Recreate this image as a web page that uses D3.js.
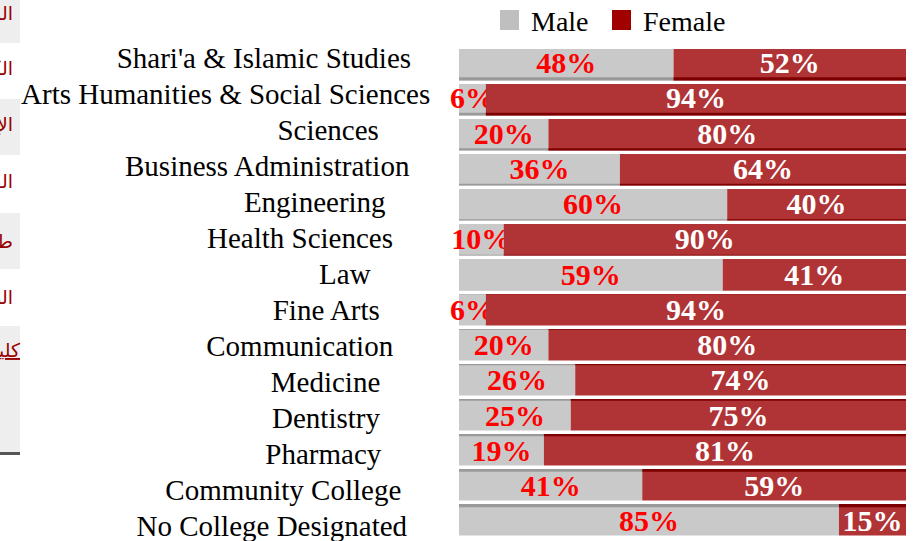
<!DOCTYPE html>
<html>
<head>
<meta charset="utf-8">
<script src="https://cdn.jsdelivr.net/npm/d3@7"></script>
<style>
  body { margin: 0; background: #fff; }
  svg { display: block; }
</style>
</head>
<body>
<div id="chart"></div>
<script>
// data
const categories = [
  "Shari'a & Islamic Studies",
  "Arts Humanities & Social Sciences",
  "Sciences",
  "Business Administration",
  "Engineering",
  "Health Sciences",
  "Law",
  "Fine Arts",
  "Communication",
  "Medicine",
  "Dentistry",
  "Pharmacy",
  "Community College",
  "No College Designated"
];
const male   = [48, 6, 20, 36, 60, 10, 59, 6, 20, 26, 25, 19, 41, 85];
const female = [52, 94, 80, 64, 40, 90, 41, 94, 80, 74, 75, 81, 59, 15];
const seriesNames = ["Male", "Female"];

// sidebar menu fragment (cut off at the left edge of the page)
const menuItems = ["الرئيسية", "الكليات", "الإدارة", "القبول", "طلبة", "البحث العلمي", "كليات الجامعة"];

const W = 919, H = 541;
const svg = d3.select("#chart").append("svg")
    .attr("width", W)
    .attr("height", H);

// ---- sidebar ----
const side = svg.append("g");
[[0, 43], [99, 155], [213, 269], [326, 452]].forEach(function(b) {
  side.append("rect").attr("x", 0).attr("y", b[0]).attr("width", 20).attr("height", b[1] - b[0]).attr("fill", "#eeeeee");
});
side.append("rect").attr("x", 0).attr("y", 452).attr("width", 20).attr("height", 3).attr("fill", "#555");
const menuBase = [20, 75, 131, 188, 248, 304, 357];
side.selectAll("text.menu")
  .data(menuItems)
  .enter().append("text")
    .attr("class", "menu")
    .attr("direction", "rtl")
    .attr("text-anchor", "start")
    .attr("x", function(d, i) { return i === 6 ? 20 : 13; })
    .attr("y", function(d, i) { return menuBase[i]; })
    .attr("font-family", "DejaVu Sans, sans-serif")
    .attr("font-size", 19)
    .attr("fill", "#990000")
    .attr("text-decoration", function(d, i) { return i === 6 ? "underline" : null; })
    .text(function(d) { return d; });

// ---- chart ----
const colors = { Male: "#c9c9c9", Female: "#b03436" };
const faceColors = { Male: "#9a9a9a", Female: "#7d0000" };
const legendColors = { Male: "#bfbfbf", Female: "#a00000" };

const x = d3.scaleLinear().domain([0, 100]).range([459, 906]);
const y = d3.scaleBand().domain(categories).range([49, 535.5]).paddingInner(0.1).paddingOuter(0);
const labelY = d3.scalePoint().domain(categories).range([68, 536]);

const rows = categories.map(function(c, i) {
  return { cat: c, i: i, male: male[i], female: female[i] };
});

const g = svg.append("g");

const row = g.selectAll("g.row")
  .data(rows)
  .enter().append("g")
    .attr("class", "row");

function segs(d) {
  return [
    { name: "Male", x0: 0, x1: d.male, v: d.male, i: d.i, cat: d.cat },
    { name: "Female", x0: d.male, x1: 100, v: d.female, i: d.i, cat: d.cat }
  ];
}

// perspective face: bottom for upper rows, top for lower rows
function faceT(i) { return (6.5 - i) * 0.5; }

const seg = row.selectAll("g.seg")
  .data(segs)
  .enter().append("g").attr("class", "seg");

seg.append("rect")
    .attr("x", function(d) { return x(d.x0); })
    .attr("y", function(d) { return y(d.cat); })
    .attr("width", function(d) { return x(d.x1) - x(d.x0); })
    .attr("height", y.bandwidth())
    .attr("fill", function(d) { return colors[d.name]; });

seg.append("rect")
    .attr("x", function(d) { return x(d.x0); })
    .attr("y", function(d) {
      const t = faceT(d.i);
      return t > 0 ? y(d.cat) + y.bandwidth() - t : y(d.cat);
    })
    .attr("width", function(d) { return x(d.x1) - x(d.x0); })
    .attr("height", function(d) { return Math.abs(faceT(d.i)); })
    .attr("fill", function(d) { return faceColors[d.name]; });

seg.append("text")
    .attr("x", function(d) { return (x(d.x0) + x(d.x1)) / 2; })
    .attr("y", function(d) {
      const t = faceT(d.i);
      const top = y(d.cat) + (t < 0 ? -t : 0);
      const h = y.bandwidth() - Math.abs(t);
      return top + h / 2 + 10;
    })
    .attr("text-anchor", "middle")
    .attr("font-family", "Liberation Serif, Times New Roman, serif")
    .attr("font-weight", "bold")
    .attr("font-size", 30)
    .attr("fill", function(d) { return d.name === "Male" ? "#ff0000" : "#ffffff"; })
    .text(function(d) { return d.v + "%"; });

// category labels
const catLabels = g.selectAll("text.cat")
  .data(categories)
  .enter().append("text")
    .attr("class", "cat")
    .attr("y", function(d) { return labelY(d); })
    .attr("text-anchor", "middle")
    .attr("font-family", "Liberation Serif, Times New Roman, serif")
    .attr("font-size", 29)
    .attr("fill", "#000")
    .text(function(d) { return d; });
catLabels.attr("x", function() { return 362 - this.getComputedTextLength() / 3; });

// legend
const legend = svg.append("g").attr("transform", "translate(500,10)");
const li = legend.selectAll("g")
  .data(seriesNames)
  .enter().append("g")
    .attr("transform", function(d, i) { return "translate(" + (i * 112) + ",0)"; });
li.append("rect")
    .attr("width", 19).attr("height", 20)
    .attr("fill", function(d) { return legendColors[d]; });
li.append("text")
    .attr("x", 31).attr("y", 21)
    .attr("font-family", "Liberation Serif, Times New Roman, serif")
    .attr("font-size", 28)
    .attr("fill", "#000")
    .text(function(d) { return d; });
</script>
</body>
</html>
